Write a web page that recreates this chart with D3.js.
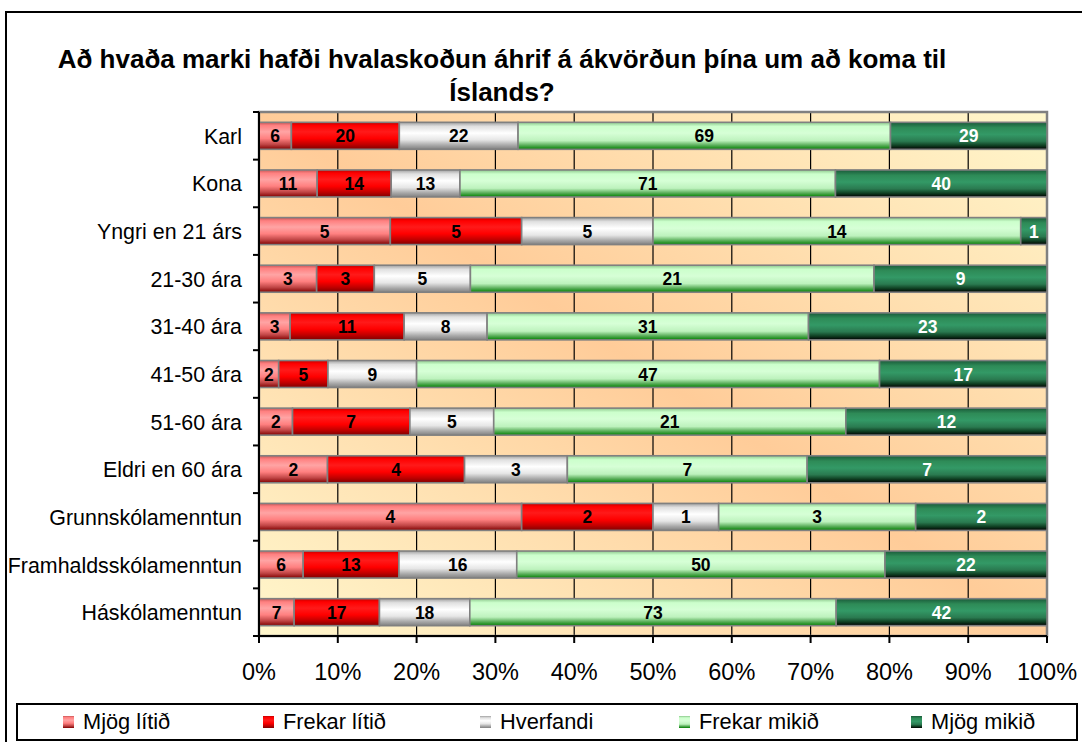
<!DOCTYPE html>
<html>
<head>
<meta charset="utf-8">
<script src="https://cdn.jsdelivr.net/npm/d3@7"></script>
<style>
  html, body { margin: 0; padding: 0; background: #fff; }
  svg { display: block; font-family: Arial, "Liberation Sans", sans-serif; }
</style>
</head>
<body>
<div id="chart"></div>
<script>
// categories (top to bottom)
const categories = ["Karl", "Kona", "Yngri en 21 árs", "21-30 ára", "31-40 ára", "41-50 ára",
  "51-60 ára", "Eldri en 60 ára", "Grunnskólamenntun", "Framhaldsskólamenntun", "Háskólamenntun"];

// series values (counts)
const mjogLitid   = [6, 11, 5, 3, 3, 2, 2, 2, 4, 6, 7];
const frekarLitid = [20, 14, 5, 3, 11, 5, 7, 4, 2, 13, 17];
const hverfandi   = [22, 13, 5, 5, 8, 9, 5, 3, 1, 16, 18];
const frekarMikid = [69, 71, 14, 21, 31, 47, 21, 7, 3, 50, 73];
const mjogMikid   = [29, 40, 1, 9, 23, 17, 12, 7, 2, 22, 42];

const seriesNames = ["Mjög lítið", "Frekar lítið", "Hverfandi", "Frekar mikið", "Mjög mikið"];
const xTicks = [0, 0.1, 0.2, 0.3, 0.4, 0.5, 0.6, 0.7, 0.8, 0.9, 1];
const title = ["Að hvaða marki hafði hvalaskoðun áhrif á ákvörðun þína um að koma til", "Íslands?"];

// gradient stops per series (top -> bottom of bar)
const barGrads = [
  [["0", "#c85858"], ["0.12", "#ff8080"], ["0.35", "#ffa4a4"], ["0.6", "#ff8080"], ["0.82", "#c04545"], ["1", "#800000"]],
  [["0", "#c00000"], ["0.12", "#ff0000"], ["0.35", "#ff1a1a"], ["0.6", "#ff0000"], ["0.82", "#c00000"], ["1", "#800000"]],
  [["0", "#a0a0a0"], ["0.15", "#e0e0e0"], ["0.4", "#ffffff"], ["0.65", "#e6e6e6"], ["0.85", "#a8a8a8"], ["1", "#808080"]],
  [["0", "#8cc88c"], ["0.15", "#ccffcc"], ["0.4", "#d6ffd6"], ["0.68", "#bdf2bd"], ["0.85", "#5aae5a"], ["1", "#008000"]],
  [["0", "#1a5a3a"], ["0.2", "#2e8b57"], ["0.45", "#339966"], ["0.7", "#2a7a50"], ["0.86", "#0f3f22"], ["1", "#000000"]]
];
const labelColors = ["#000", "#000", "#000", "#000", "#fff"];

const W = 1082, H = 742;
const plot = { left: 259, right: 1047, top: 112, bottom: 636 };

const svg = d3.select("#chart").append("svg")
  .attr("width", W).attr("height", H);

const defs = svg.append("defs");

const bg = defs.append("linearGradient").attr("id", "bgGrad")
  .attr("x1", 0).attr("y1", 1).attr("x2", 1).attr("y2", 0);
bg.append("stop").attr("offset", "0").attr("stop-color", "#fff7cc");
bg.append("stop").attr("offset", "0.5").attr("stop-color", "#ffcc99");
bg.append("stop").attr("offset", "1").attr("stop-color", "#fff7cc");

barGrads.forEach((stops, i) => {
  const g = defs.append("linearGradient").attr("id", "bar" + i)
    .attr("x1", 0).attr("y1", 0).attr("x2", 0).attr("y2", 1);
  stops.forEach(s => g.append("stop").attr("offset", s[0]).attr("stop-color", s[1]));
});

// outer chart border
svg.append("rect")
  .attr("x", 6).attr("y", 12).attr("width", 1100).attr("height", 800)
  .attr("fill", "#fff").attr("stroke", "#000").attr("stroke-width", 2);

// title
svg.append("text")
  .attr("x", 502).attr("y", 68)
  .attr("text-anchor", "middle")
  .attr("font-size", 26).attr("font-weight", "bold")
  .selectAll("tspan").data(title).join("tspan")
  .attr("x", 502).attr("dy", (d, i) => i ? 33 : 0)
  .text(d => d);

// data table for stacking
const table = categories.map((c, i) => ({
  cat: c,
  s0: mjogLitid[i], s1: frekarLitid[i], s2: hverfandi[i], s3: frekarMikid[i], s4: mjogMikid[i]
}));
const keys = ["s0", "s1", "s2", "s3", "s4"];
const stacked = d3.stack().keys(keys).offset(d3.stackOffsetExpand)(table);

const x = d3.scaleLinear().domain([0, 1]).range([plot.left, plot.right]);
const y = d3.scaleBand().domain(categories).range([plot.top, plot.bottom])
  .paddingInner(0.433).paddingOuter(0.2165);

// plot background
svg.append("rect")
  .attr("x", plot.left).attr("y", plot.top)
  .attr("width", plot.right - plot.left).attr("height", plot.bottom - plot.top)
  .attr("fill", "url(#bgGrad)");

// vertical gridlines
svg.append("g").selectAll("line")
  .data(xTicks.slice(1, -1)).join("line")
  .attr("x1", d => x(d)).attr("x2", d => x(d))
  .attr("y1", plot.top).attr("y2", plot.bottom)
  .attr("stroke", "#000").attr("stroke-width", 1.2);

// plot border
svg.append("rect")
  .attr("x", plot.left).attr("y", plot.top)
  .attr("width", plot.right - plot.left).attr("height", plot.bottom - plot.top)
  .attr("fill", "none").attr("stroke", "#808080").attr("stroke-width", 2.5);

// bars
const series = svg.append("g").selectAll("g")
  .data(stacked).join("g")
  .attr("fill", (d, i) => `url(#bar${i})`);

series.selectAll("rect")
  .data(d => d).join("rect")
  .attr("x", d => x(d[0]))
  .attr("y", d => y(d.data.cat))
  .attr("width", d => x(d[1]) - x(d[0]))
  .attr("height", y.bandwidth())
  .attr("stroke", "#808080").attr("stroke-width", 1.6);

// value labels
stacked.forEach((s, si) => {
  svg.append("g").selectAll("text")
    .data(s).join("text")
    .attr("x", d => (x(d[0]) + x(d[1])) / 2)
    .attr("y", d => y(d.data.cat) + y.bandwidth() / 2 + 6.5)
    .attr("text-anchor", "middle")
    .attr("font-size", 17.5).attr("font-weight", "bold")
    .attr("fill", labelColors[si])
    .text(d => d.data[s.key]);
});

// left axis
svg.append("line")
  .attr("x1", plot.left).attr("x2", plot.left)
  .attr("y1", plot.top).attr("y2", plot.bottom + 6)
  .attr("stroke", "#000").attr("stroke-width", 2);
const bounds = categories.map(c => y(c) - y.step() * y.paddingInner() / 2).concat([plot.bottom]);
svg.append("g").selectAll("line")
  .data(bounds).join("line")
  .attr("x1", plot.left - 6).attr("x2", plot.left)
  .attr("y1", d => d).attr("y2", d => d)
  .attr("stroke", "#000").attr("stroke-width", 2);

svg.append("g").selectAll("text")
  .data(categories).join("text")
  .attr("x", plot.left - 17)
  .attr("y", d => y(d) + y.bandwidth() / 2 + 8)
  .attr("text-anchor", "end")
  .attr("font-size", 21.4)
  .text(d => d);

// bottom axis
svg.append("line")
  .attr("x1", plot.left - 6).attr("x2", plot.right)
  .attr("y1", plot.bottom).attr("y2", plot.bottom)
  .attr("stroke", "#000").attr("stroke-width", 2);
svg.append("g").selectAll("line")
  .data(xTicks).join("line")
  .attr("x1", d => x(d)).attr("x2", d => x(d))
  .attr("y1", plot.bottom).attr("y2", plot.bottom + 7)
  .attr("stroke", "#000").attr("stroke-width", 2);
svg.append("g").selectAll("text")
  .data(xTicks).join("text")
  .attr("x", d => x(d))
  .attr("y", 680)
  .attr("text-anchor", "middle")
  .attr("font-size", 23.5)
  .text(d => d3.format(".0%")(d));

// legend
const legendX = [63, 263, 480, 679, 911];
svg.append("rect")
  .attr("x", 17).attr("y", 704).attr("width", 1060).attr("height", 36)
  .attr("fill", "#fff").attr("stroke", "#000").attr("stroke-width", 2);
const leg = svg.append("g").selectAll("g")
  .data(seriesNames).join("g")
  .attr("transform", (d, i) => `translate(${legendX[i]},0)`);
leg.append("rect")
  .attr("x", 0).attr("y", 716).attr("width", 11).attr("height", 12)
  .attr("fill", (d, i) => `url(#bar${i})`);
leg.append("text")
  .attr("x", 20).attr("y", 729)
  .attr("font-size", 21.8)
  .text(d => d);
</script>
</body>
</html>
